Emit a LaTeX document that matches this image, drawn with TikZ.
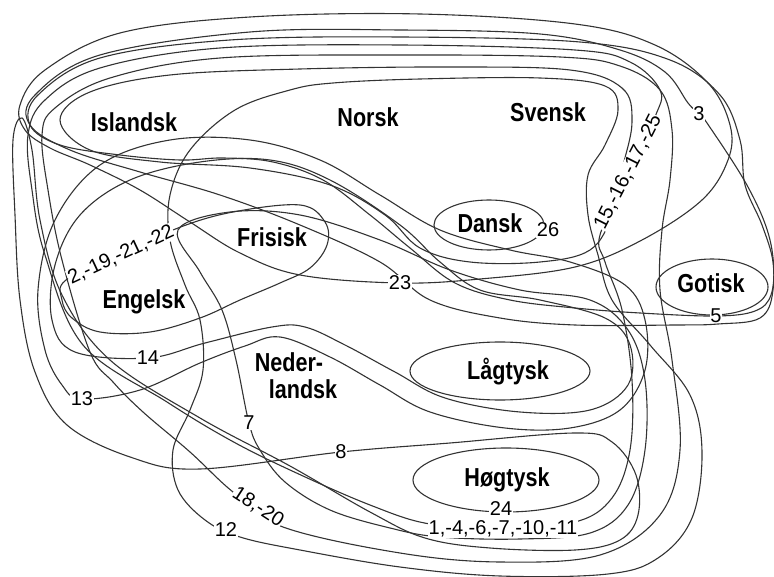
\documentclass[tikz,border=0pt]{standalone}
\usepackage{fontspec}
\setmainfont{Liberation Sans}
\usepackage{graphicx}
\tikzstyle{iso}=[line width=1.1pt, draw=black!80]
\tikzstyle{lang}=[font=\fontsize{26}{28}\selectfont\bfseries, inner sep=0pt, anchor=base]
\tikzstyle{num}=[font=\fontsize{20}{22}\selectfont, fill=white, inner sep=0.5pt]
\newcommand{\lname}[1]{\scalebox{0.83}[1]{#1}}

\begin{document}
\begin{tikzpicture}[x=1pt,y=-1pt]
				\useasboundingbox (0,0) rectangle (774,577);

				%The Nordic loops over the top
				\draw[iso] plot[smooth cycle, tension=0.6] coordinates {(399,283) (480,279) (575,267) (642,240) (702,200) (728,160) (730,125) (708,83) (655,45) (575,24) (420,14) (250,17) (120,33) (45,70) (20,105) (25,130) (50,148) (90,165) (140,190) (190,222) (240,253) (300,275)};
				\draw[iso] plot[smooth cycle, tension=0.6] coordinates {(698,113) (707,123) (748,187) (770,240) (773,290) (760,318) (718,324) (675,325) (575,325) (500,318) (430,300) (380,262) (300,225) (220,195) (140,172) (70,150) (30,125) (35,95) (100,55) (250,32) (400,30) (540,34) (620,50) (665,72) (688,103)};
				\draw[iso] plot[smooth cycle, tension=0.6] coordinates {(716,316) (755,311) (771,295) (773,262) (762,225) (745,185) (740,140) (720,95) (670,60) (580,42) (400,37) (230,40) (100,58) (38,95) (30,125) (60,145) (120,155) (180,160) (223,158) (273,162) (323,180) (370,215) (410,248) (455,283) (510,300) (575,308) (640,313)};
				\draw[iso] plot[smooth cycle, tension=0.6] coordinates {(60,120) (90,92) (170,75) (300,69) (450,67) (570,70) (622,88) (632,122) (622,170) (612,215) (590,250) (540,262) (470,262) (420,248) (385,215) (330,185) (250,168) (160,162) (90,150)};

				%The long loops down to the south
				\draw[iso] plot[smooth cycle, tension=0.6] coordinates {(290,90) (333,83) (420,79) (540,78) (605,86) (618,110) (605,145) (588,175) (588,215) (598,255) (612,300) (650,345) (690,395) (702,452) (692,518) (658,558) (608,574) (500,576) (400,567) (300,550) (240,537) (205,520) (178,490) (173,450) (190,410) (203,370) (200,320) (185,285) (170,240) (170,195) (190,150) (235,110)};
				\draw[iso] plot[smooth cycle, tension=0.6] coordinates {(28,135) (32,190) (45,255) (83,345) (167,402) (230,440) (290,470) (370,505) (430,524) (502,527) (575,522) (612,498) (630,450) (632,380) (622,310) (605,262) (600,235) (628,175) (655,117) (660,90) (630,62) (575,50) (400,45) (220,48) (100,68) (45,100)};
				\draw[iso] plot[smooth cycle, tension=0.6] coordinates {(233,492) (283,527) (400,553) (500,562) (600,555) (660,515) (680,450) (672,360) (660,290) (662,230) (670,180) (672,130) (660,90) (620,66) (560,57) (400,55) (220,58) (110,78) (55,108) (42,135) (48,190) (62,260) (90,352) (113,382) (143,412) (190,452)};
				\draw[iso] plot[smooth cycle, tension=0.6] coordinates {(13,140) (15,215) (20,300) (35,372) (67,425) (133,458) (200,469) (341,452) (450,443) (575,433) (612,442) (636,475) (638,515) (620,540) (575,550) (490,548) (425,538) (370,512) (290,466) (200,418) (110,360) (62,295) (40,220) (32,150) (22,118)};
				\draw[iso] plot[smooth cycle, tension=0.6] coordinates {(178,230) (200,272) (222,310) (236,360) (249,423) (260,450) (285,482) (330,510) (390,528) (440,537) (520,539) (590,533) (628,505) (645,450) (645,380) (628,330) (590,300) (520,290) (450,270) (380,240) (300,215) (230,212)};

				%Engelsk, Frisisk and the Ingvaeonic lines
				\draw[iso] plot[smooth cycle, tension=0.6] coordinates {(62,300) (66,280) (121,255) (178,228) (233,212) (300,205) (325,222) (327,245) (310,268) (280,283) (240,300) (200,318) (150,332) (100,332) (72,318)};
				\draw[iso] plot[smooth cycle, tension=0.6] coordinates {(148,358) (205,343) (272,327) (305,327) (345,345) (395,372) (445,398) (520,412) (590,410) (628,385) (630,345) (605,318) (540,300) (480,290) (440,262) (400,225) (330,180) (270,160) (200,162) (130,180) (80,215) (55,265) (52,320) (75,352)};
				\draw[iso] plot[smooth cycle, tension=0.6] coordinates {(82,399) (140,390) (200,363) (245,346) (280,337) (330,357) (380,385) (430,412) (505,428) (570,428) (620,410) (645,370) (645,320) (625,285) (570,262) (510,250) (440,230) (380,195) (320,160) (250,140) (170,140) (100,165) (55,220) (38,290) (45,350) (62,385)};

				%The single languages
				\draw[iso] (489,225) ellipse [x radius=55pt, y radius=25pt];
				\draw[iso] (712,287) ellipse [x radius=56pt, y radius=28pt];
				\draw[iso] (500,371) ellipse [x radius=90pt, y radius=29pt];
				\draw[iso] (506,480) ellipse [x radius=93pt, y radius=32pt];

				%The languages
				\node[lang] (islandsk) at (134,132) {\lname{Islandsk}};
				\node[lang] (norsk) at (368,127) {\lname{Norsk}};
				\node[lang] (svensk) at (548,122) {\lname{Svensk}};
				\node[lang] (dansk) at (490,233) {\lname{Dansk}};
				\node[lang] (frisisk) at (272,247) {\lname{Frisisk}};
				\node[lang] (engelsk) at (144,309) {\lname{Engelsk}};
				\node[lang] (neder) at (289,372) {\lname{Neder-}};
				\node[lang] (landsk) at (303,398) {\lname{landsk}};
				\node[lang] (lagtysk) at (508,379) {\lname{Lågtysk}};
				\node[lang] (hogtysk) at (507,486) {\lname{Høgtysk}};
				\node[lang] (gotisk) at (711,293) {\lname{Gotisk}};

				%The isogloss numbers
				\node[num] (n3) at (699,114) {3};
				\node[num] (n26) at (548,230) {26};
				\node[num, rotate=63] (n15) at (628,172) {15,-16,-17,-25};
				\node[num, rotate=25] (n2) at (121,255) {2,-19,-21,-22};
				\node[num] (n23) at (400,283) {23};
				\node[num] (n5) at (716,316) {5};
				\node[num] (n14) at (148,358) {14};
				\node[num] (n13) at (82,399) {13};
				\node[num] (n7) at (249,423) {7};
				\node[num] (n8) at (341,452) {8};
				\node[num] (n24) at (501,509) {24};
				\node[num] (n1) at (503,529) {1,-4,-6,-7,-10,-11};
				\node[num, rotate=-33] (n18) at (258,507) {18,-20};
				\node[num] (n12) at (226,530) {12};
			\end{tikzpicture}
\end{document}
